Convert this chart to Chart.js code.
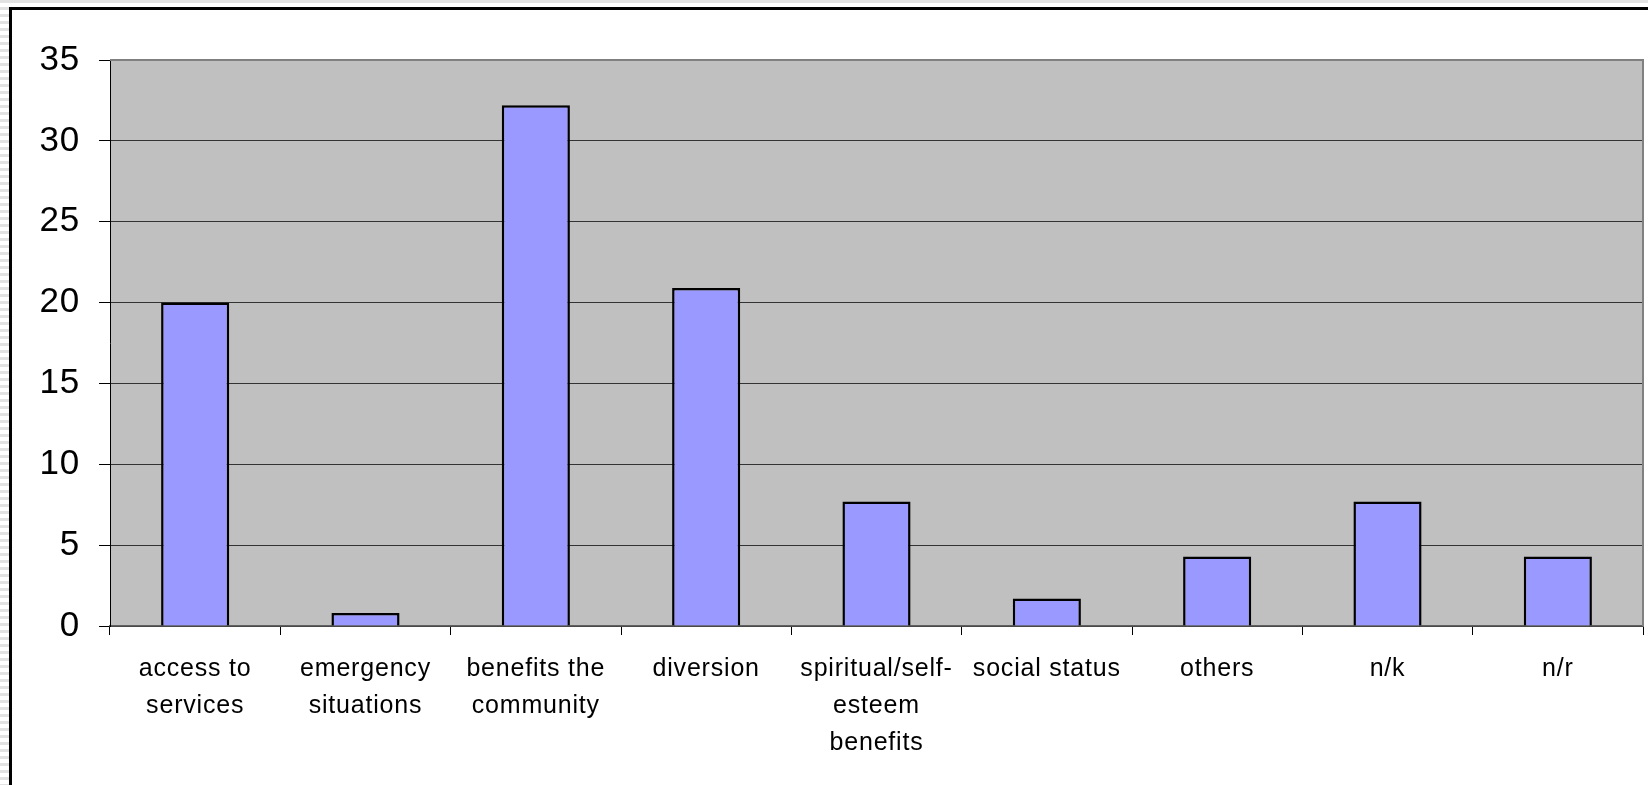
<!DOCTYPE html>
<html>
<head>
<meta charset="utf-8">
<script src="https://cdn.jsdelivr.net/npm/chart.js@4.4.0/dist/chart.umd.min.js"></script>
<style>
  html, body {
    margin: 0;
    padding: 0;
    width: 1648px;
    height: 785px;
    overflow: hidden;
    background: repeating-linear-gradient(to bottom, #e2e2e2 0px, #e2e2e2 3px, #ffffff 3px, #ffffff 7px);
  }
  #frame {
    position: absolute;
    left: 9px;
    top: 7px;
    width: 1700px;
    height: 900px;
    background: #fff;
    border-left: 3px solid #000;
    border-top: 3px solid #000;
  }
  #chartWrap {
    position: absolute;
    left: 0;
    top: 0;
    width: 1648px;
    height: 785px;
  }
</style>
</head>
<body>
<div id="frame"></div>
<div id="chartWrap"><canvas id="reasonsChart"></canvas></div>
<script>
const categories = [
    ['access to', 'services'],
    ['emergency', 'situations'],
    ['benefits the', 'community'],
    'diversion',
    ['spiritual/self-', 'esteem', 'benefits'],
    'social status',
    'others',
    'n/k',
    'n/r'
];
const percentages = [20.0, 0.8, 32.2, 20.9, 7.7, 1.7, 4.3, 7.7, 4.3];
const yTicks = [0, 5, 10, 15, 20, 25, 30, 35];

// grey plot area with the darker frame on top and right
const plotBackground = {
    id: 'plotBackground',
    beforeDraw(chart) {
        const { ctx, chartArea } = chart;
        ctx.save();
        ctx.fillStyle = '#c0c0c0';
        ctx.fillRect(chartArea.left, chartArea.top, chartArea.right - chartArea.left, chartArea.bottom - chartArea.top);
        ctx.restore();
        ctx.letterSpacing = '0.8px';
    },
    afterDatasetsDraw(chart) {
        const { ctx, chartArea } = chart;
        ctx.save();
        ctx.strokeStyle = '#808080';
        ctx.lineWidth = 2;
        ctx.beginPath();
        ctx.moveTo(chartArea.left, chartArea.top);
        ctx.lineTo(chartArea.right, chartArea.top);
        ctx.lineTo(chartArea.right, chartArea.bottom);
        ctx.stroke();
        ctx.restore();
    }
};

const ctx = document.getElementById('reasonsChart').getContext('2d');
const reasonsChart = new Chart(ctx, {
    type: 'bar',
    data: {
        labels: categories,
        datasets: [{
            data: percentages,
            backgroundColor: '#9999ff',
            borderColor: '#000000',
            borderWidth: 2.5,
            categoryPercentage: 1,
            barPercentage: 0.4
        }]
    },
    options: {
        responsive: true,
        maintainAspectRatio: false,
        animation: false,
        layout: {
            padding: { left: 12, top: 60, right: 5, bottom: 0 }
        },
        plugins: {
            legend: { display: false },
            tooltip: { enabled: false }
        },
        scales: {
            x: {
                afterFit(scale) { scale.height = 159; },
                grid: {
                    drawOnChartArea: false,
                    drawTicks: true,
                    tickLength: 9,
                    tickColor: '#000',
                    offset: true
                },
                border: { color: '#606060', width: 1.5 },
                ticks: {
                    autoSkip: false,
                    maxRotation: 0,
                    minRotation: 0,
                    padding: 16,
                    color: '#000',
                    font: { family: '"Liberation Sans", Arial, sans-serif', size: 25, lineHeight: 1.47 }
                }
            },
            y: {
                min: 0,
                max: 35,
                afterFit(scale) { scale.width = 98; },
                afterBuildTicks(scale) {
                    scale.ticks = yTicks.map(v => ({ value: v }));
                },
                grid: {
                    color: '#333',
                    lineWidth: 1,
                    tickLength: 11,
                    tickColor: '#000'
                },
                border: { color: '#000', width: 1 },
                ticks: {
                    padding: 19,
                    color: '#000',
                    font: { family: '"Liberation Sans", Arial, sans-serif', size: 35 }
                }
            }
        }
    },
    plugins: [plotBackground]
});
</script>
</body>
</html>
